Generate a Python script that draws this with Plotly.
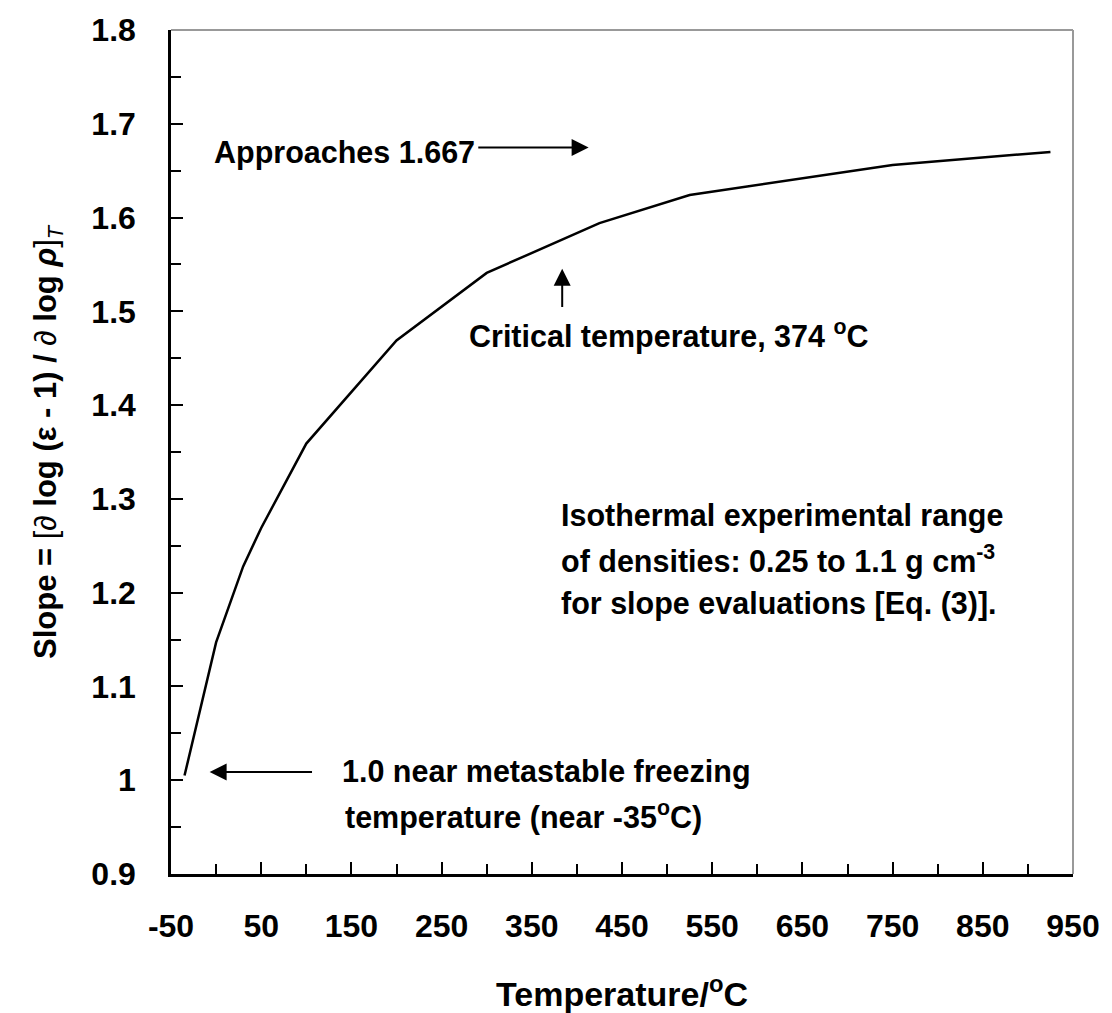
import plotly.graph_objects as go

# slope of log(eps - 1) vs log(rho) along isotherms
temps = [-35, 0, 30, 50, 100, 200, 300, 425, 525, 750, 925]
slope = [1.005, 1.147, 1.228, 1.269, 1.359, 1.469, 1.541, 1.594, 1.624, 1.656, 1.670]

x_ticks = [-50, 50, 150, 250, 350, 450, 550, 650, 750, 850, 950]
y_ticks = [0.9, 1.0, 1.1, 1.2, 1.3, 1.4, 1.5, 1.6, 1.7, 1.8]

FONT = "Arial, Liberation Sans, sans-serif"
ANN = dict(family=FONT, size=30.5, color="black")

fig = go.Figure()
fig.add_trace(go.Scatter(x=temps, y=slope, mode="lines",
                         line=dict(color="black", width=2.5),
                         hoverinfo="skip", showlegend=False))


def label(x, y, text, anchor="left"):
    fig.add_annotation(x=x, y=y, xref="x", yref="y", text=f"<b>{text}</b>",
                       showarrow=False, xanchor=anchor, yanchor="middle", font=ANN)


def arrow(x0, y0, x1, y1):
    fig.add_annotation(x=x1, y=y1, ax=x0, ay=y0, xref="x", yref="y",
                       axref="x", ayref="y", text="", showarrow=True,
                       arrowhead=2, arrowsize=1.7, arrowwidth=2, arrowcolor="black")


label(289, 1.669, "Approaches 1.667", anchor="right")
arrow(289, 1.6747, 413, 1.6747)

label(278, 1.475, "Critical temperature, 374 <sup>o</sup>C")
arrow(383.7, 1.503, 383.7, 1.5454)

label(380, 1.2826, "Isothermal experimental range")
label(380, 1.2358, "of densities: 0.25 to 1.1 g cm<sup>-3</sup>")
label(380, 1.188, "for slope evaluations [Eq. (3)].")

label(137.4, 1.0095, "1.0 near metastable freezing")
label(141, 0.9627, "temperature (near -35<sup>o</sup>C)")
arrow(108, 1.0087, -7.2, 1.0087)

# axis titles
fig.add_annotation(xref="paper", yref="paper", x=0.5, y=0, yshift=-117,
                   text="<b>Temperature/<sup>o</sup>C</b>", showarrow=False,
                   xanchor="center", yanchor="middle",
                   font=dict(family=FONT, size=34, color="black"))
fig.add_annotation(xref="paper", yref="paper", x=0, y=0.5, xshift=-123, yshift=10,
                   text="<b>Slope = </b>[∂<b> log (ε - 1) / </b>∂<b> log <i>ρ</i></b>]<sub><i>T</i></sub>",
                   textangle=-90, showarrow=False, xanchor="center", yanchor="middle",
                   font=dict(family=FONT, size=31, color="black"))

# grey top / right frame
fig.add_shape(type="line", xref="paper", yref="paper", x0=0, x1=1, y0=1, y1=1,
              line=dict(color="#999999", width=2))
fig.add_shape(type="line", xref="paper", yref="paper", x0=1, x1=1, y0=0, y1=1,
              line=dict(color="#999999", width=2))

fig.update_xaxes(range=[-50, 950], tickvals=x_ticks, ticktext=[str(v) for v in x_ticks],
                 ticks="inside", ticklen=12,
                 tickwidth=2, tickcolor="black", showline=True, linecolor="black",
                 linewidth=2.5, showgrid=False, zeroline=False, ticklabelstandoff=22,
                 tickfont=dict(family=FONT, size=32, color="black", weight="bold"),
                 minor=dict(ticks="inside", ticklen=10, tickwidth=2, tickcolor="black",
                            tick0=0, dtick=100, showgrid=False))
fig.update_yaxes(range=[0.9, 1.8], tickvals=y_ticks, ticktext=[f"{v:g}" for v in y_ticks],
                 ticks="inside", ticklen=12,
                 tickwidth=2, tickcolor="black", showline=True, linecolor="black",
                 linewidth=2.5, showgrid=False, zeroline=False, ticklabelstandoff=26,
                 tickfont=dict(family=FONT, size=32, color="black", weight="bold"),
                 minor=dict(ticks="inside", ticklen=10, tickwidth=2, tickcolor="black",
                            tick0=0.95, dtick=0.1, showgrid=False))

fig.update_layout(width=1112, height=1013, plot_bgcolor="white", paper_bgcolor="white",
                  margin=dict(l=171, r=31, t=27, b=139), showlegend=False)

fig.write_html("out.html", config={"displayModeBar": False},
               post_script="document.body.style.margin='0';"
                           "document.body.style.overflow='hidden';")
